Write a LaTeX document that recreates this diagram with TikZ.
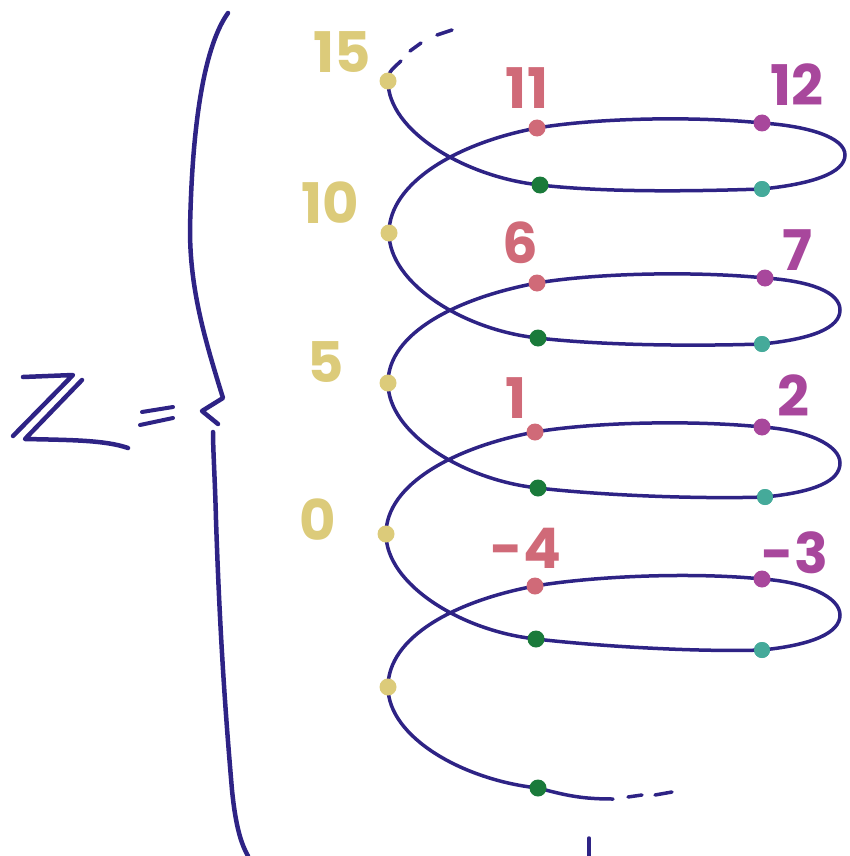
\documentclass[tikz,border=0pt]{standalone}
\usepackage{fontspec}
\setmainfont{Poppins}
\definecolor{ink}{HTML}{2E2385}
\definecolor{ylw}{HTML}{DCCB7A}
\definecolor{pnk}{HTML}{D06A78}
\definecolor{prp}{HTML}{A8479C}
\definecolor{grn}{HTML}{1A7A3A}
\definecolor{tel}{HTML}{45AA9A}
\begin{document}
\begin{tikzpicture}[x=1pt,y=-1pt,
  curve/.style={draw=ink,line width=3.5pt,line cap=round},
  pen/.style={draw=ink,line width=4.5pt,line cap=round,line join=round},
  dot/.style={circle,inner sep=0pt,minimum size=16pt},
  ydot/.style={dot,fill=ylw},
  gdot/.style={dot,fill=grn},
  tdot/.style={dot,fill=tel},
  pdot/.style={dot,fill=prp},
  kdot/.style={dot,fill=pnk},
  lab/.style={font=\fontsize{56}{56}\selectfont\bfseries,inner sep=0pt}]
\useasboundingbox (0,0) rectangle (850,856);
% dots
\node[ydot] (Y1) at (388,81) {};
\node[ydot] (Y2) at (389,233) {};
\node[ydot] (Y3) at (388,383) {};
\node[ydot] (Y4) at (386,534) {};
\node[ydot] (Y5) at (388,687) {};
\node[gdot] (G1) at (540,185) {};
\node[gdot] (G2) at (538,338) {};
\node[gdot] (G3) at (538,488) {};
\node[gdot] (G4) at (536,639) {};
\node[gdot] (G5) at (538,788) {};
\node[tdot] (T1) at (762,189) {};
\node[tdot] (T2) at (762,344) {};
\node[tdot] (T3) at (765,497) {};
\node[tdot] (T4) at (762,650) {};
\node[pdot] (P1) at (762,123) {};
\node[pdot] (P2) at (765,278) {};
\node[pdot] (P3) at (762,427) {};
\node[pdot] (P4) at (762,579) {};
\node[kdot] (K1) at (537,128) {};
\node[kdot] (K2) at (537,283) {};
\node[kdot] (K3) at (535,432) {};
\node[kdot] (K4) at (535,586) {};
\coordinate (R1) at (845,155);
\coordinate (R2) at (840,310);
\coordinate (R3) at (840,463);
\coordinate (R4) at (840,615);
% helix
\foreach \i/\j in {1/2,2/3,3/4,4/5}{
  \draw[curve] (Y\i.center) .. controls +(0,50) and +(-75,-8) .. (G\i.center)
    .. controls +(70,8) and +(-60,2) .. (T\i.center)
    .. controls +(50,-5) and +(0,18) .. (R\i)
    .. controls +(0,-18) and +(45,3) .. (P\i.center)
    .. controls +(-70,-7) and +(60,-10) .. (K\i.center)
    .. controls +(-80,15) and +(0,-50) .. (Y\j.center);
}
\coordinate (topend) at (401,61);
\coordinate (td1a) at (410,51); \coordinate (td1b) at (421,43);
\coordinate (td2a) at (437,35); \coordinate (td2b) at (452,30);
\draw[curve] (Y1.center) .. controls (389,72) .. (topend);
\draw[curve] (td1a) -- (td1b);
\draw[curve] (td2a) -- (td2b);
\coordinate (botend) at (613,799);
\draw[curve] (Y5.center) .. controls +(0,50) and +(-75,-8) .. (G5.center)
  .. controls +(30,8) and +(-30,0) .. (botend);
\coordinate (bd1a) at (628,797); \coordinate (bd1b) at (642,795);
\coordinate (bd2a) at (655,795); \coordinate (bd2b) at (672,792);
\draw[curve] (bd1a) -- (bd1b);
\draw[curve] (bd2a) -- (bd2b);
% redraw dots on top
\foreach \n in {Y1,Y2,Y3,Y4,Y5}{\fill[ylw] (\n) circle (8.5pt);}
\foreach \n in {G1,G2,G3,G4,G5}{\fill[grn] (\n) circle (8.5pt);}
\foreach \n in {T1,T2,T3,T4}{\fill[tel] (\n) circle (8pt);}
\foreach \n in {P1,P2,P3,P4}{\fill[prp] (\n) circle (8.5pt);}
\foreach \n in {K1,K2,K3,K4}{\fill[pnk] (\n) circle (8.5pt);}
% tick at bottom
\coordinate (tk1) at (589,838); \coordinate (tk2) at (589,856);
\draw[curve] (tk1) -- (tk2);
% labels
\node[lab,text=ylw] (l15) at (342,52) {15};
\node[lab,text=ylw] (l10) at (330,203) {10};
\node[lab,text=ylw] (l5) at (326,362) {5};
\node[lab,text=ylw] (l0) at (318,520) {0};
\node[lab,text=pnk] (l11) at (527,88) {11};
\node[lab,text=pnk] (l6) at (520,243) {6};
\node[lab,text=pnk] (l1) at (516,398) {1};
\node[lab,text=pnk] (lm4) at (526,548) {-4};
\node[lab,text=prp] (l12) at (797,85) {12};
\node[lab,text=prp] (l7) at (797,250) {7};
\node[lab,text=prp] (l2) at (793,396) {2};
\node[lab,text=prp] (lm3) at (795,553) {-3};
% brace
\draw[pen] (228,13) .. controls (205,45) and (192,120) .. (190,230)
  .. controls (190,290) and (205,340) .. (223,398)
  -- (202,411) -- (218,424);
\draw[pen] (213,432) .. controls (213,450) and (215,480) .. (216,520)
  .. controls (220,640) and (226,720) .. (232,790)
  .. controls (236,830) and (242,845) .. (248,856);
% double-struck Z and equals
\draw[pen] (23,377) -- (73,375) -- (13,436);
\draw[pen] (82,380) -- (25,439) .. controls (70,440) and (105,440) .. (128,448);
\draw[pen,line width=4pt] (142,412) -- (173,407);
\draw[pen,line width=4pt] (140,425) -- (173,418);
\end{tikzpicture}
\end{document}
